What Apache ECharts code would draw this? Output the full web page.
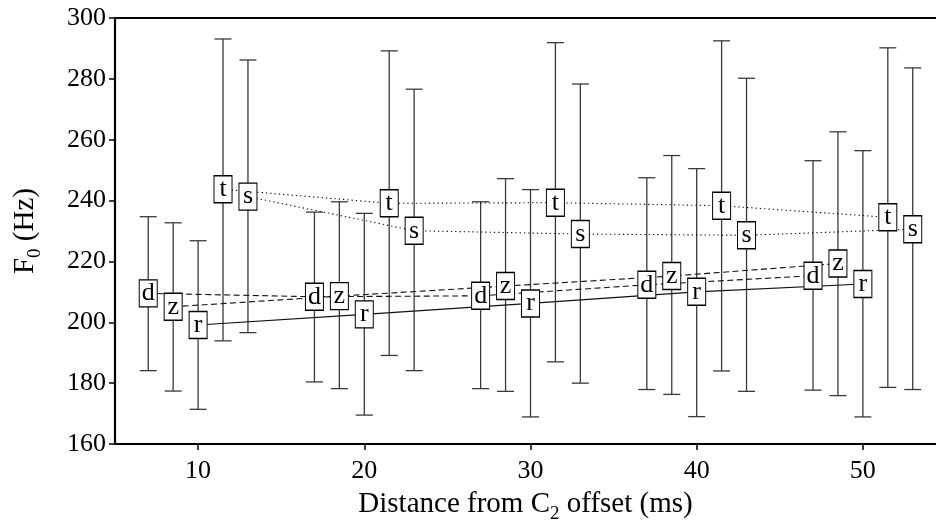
<!DOCTYPE html>
<html>
<head>
<meta charset="utf-8">
<script src="https://cdn.jsdelivr.net/npm/echarts@6/dist/echarts.min.js"></script>
<style>
html,body{margin:0;padding:0;background:#fff;}
#chart{width:936px;height:520px;}
</style>
</head>
<body>
<div id="chart"></div>
<script>
// Tick labels
const xTicks = [10, 20, 30, 40, 50];
const yTicks = [160, 180, 200, 220, 240, 260, 280, 300];

// Series letters
const letters = ['d', 'z', 'r', 't', 's'];

// x positions (ms) for each series
const dX = [7, 17, 27, 37, 47];
const zX = [8.5, 18.5, 28.5, 38.5, 48.5];
const rX = [10, 20, 30, 40, 50];
const tX = [11.5, 21.5, 31.5, 41.5, 51.5];
const sX = [13, 23, 33, 43, 53];

// mean F0 (Hz)
const dMean = [209.5, 208.4, 208.7, 212.3, 215.3];
const zMean = [205.1, 208.6, 211.9, 215.2, 219.3];
const rMean = [199.1, 202.6, 206.2, 210.0, 212.6];
const tMean = [243.7, 239.1, 239.3, 238.3, 234.5];
const sMean = [241.3, 230.1, 229.0, 228.6, 230.6];

// lower error bar ends
const dLow = [184.1, 180.4, 178.2, 177.9, 177.7];
const zLow = [177.4, 178.2, 177.3, 176.3, 175.9];
const rLow = [171.4, 169.5, 168.9, 169.0, 168.9];
const tLow = [193.9, 189.1, 187.0, 184.0, 178.6];
const sLow = [196.6, 184.1, 180.0, 177.3, 177.9];

// upper error bar ends
const dHigh = [234.7, 236.2, 239.6, 247.5, 253.1];
const zHigh = [232.7, 239.6, 247.2, 254.8, 262.6];
const rHigh = [226.8, 235.8, 243.6, 250.5, 256.4];
const tHigh = [293.1, 289.2, 291.9, 292.5, 290.2];
const sHigh = [286.2, 276.6, 278.3, 280.2, 283.6];

const FONT = "'Liberation Serif', 'Times New Roman', 'DejaVu Serif', serif";

const groups = [
  {name: letters[0], x: dX, mean: dMean, low: dLow, high: dHigh, line: [6, 3.5]},
  {name: letters[1], x: zX, mean: zMean, low: zLow, high: zHigh, line: [6, 3.5]},
  {name: letters[2], x: rX, mean: rMean, low: rLow, high: rHigh, line: 'solid'},
  {name: letters[3], x: tX, mean: tMean, low: tLow, high: tHigh, line: [1.3, 3]},
  {name: letters[4], x: sX, mean: sMean, low: sLow, high: sHigh, line: [1.3, 3]}
];

function renderErr(params, api) {
  const x = api.value(0), lo = api.value(1), hi = api.value(2);
  const a = api.coord([x, lo]);
  const b = api.coord([x, hi]);
  const w = 8.5;
  const st = {stroke: '#3a3a3a', lineWidth: 1.3};
  return {
    type: 'group',
    children: [
      {type: 'line', shape: {x1: a[0], y1: a[1], x2: b[0], y2: b[1]}, style: st},
      {type: 'line', shape: {x1: a[0] - w, y1: a[1], x2: a[0] + w, y2: a[1]}, style: st},
      {type: 'line', shape: {x1: b[0] - w, y1: b[1], x2: b[0] + w, y2: b[1]}, style: st}
    ]
  };
}

const series = [];
groups.forEach(g => {
  series.push({
    type: 'custom',
    name: g.name + '-err',
    renderItem: renderErr,
    encode: {x: 0, y: [1, 2]},
    data: g.x.map((x, i) => [x, g.low[i], g.high[i]]),
    z: 1,
    silent: true
  });
});
groups.forEach(g => {
  series.push({
    type: 'line',
    name: g.name + '-line',
    data: g.x.map((x, i) => [x, g.mean[i]]),
    symbol: 'none',
    lineStyle: {color: '#111', width: 1.1, type: g.line},
    z: 2,
    silent: true
  });
});
groups.forEach(g => {
  series.push({
    type: 'scatter',
    name: g.name,
    data: g.x.map((x, i) => [x, g.mean[i]]),
    symbol: 'rect',
    symbolSize: [18, 27],
    itemStyle: {color: '#fff', borderColor: '#000', borderWidth: 1.2, opacity: 1},
    label: {
      show: true,
      position: 'inside',
      formatter: g.name,
      color: '#000',
      fontSize: 26,
      fontFamily: FONT
    },
    z: 3,
    silent: true
  });
});

const chart = echarts.init(document.getElementById('chart'), null, {renderer: 'canvas'});
chart.setOption({
  animation: false,
  backgroundColor: '#fff',
  grid: {left: 115, top: 18, bottom: 76, right: 0, containLabel: false, outerBoundsMode: 'none'},
  xAxis: [{
    type: 'value',
    min: 5,
    max: 54.4,
    position: 'bottom',
    name: 'Distance from C{sub|2} offset (ms)',
    nameLocation: 'middle',
    nameGap: 40,
    nameTextStyle: {
      color: '#000', fontSize: 29, fontFamily: FONT,
      rich: {sub: {fontSize: 19, fontFamily: FONT, color: '#000', verticalAlign: 'bottom', lineHeight: 40}}
    },
    axisLine: {show: true, lineStyle: {color: '#000', width: 2.2}},
    axisTick: {show: true, customValues: xTicks, length: 6, lineStyle: {color: '#000', width: 1.5}},
    axisLabel: {customValues: xTicks, color: '#000', fontSize: 26, fontFamily: FONT, margin: 14},
    splitLine: {show: false}
  }, {
    type: 'value',
    min: 5,
    max: 54.4,
    position: 'top',
    axisLine: {show: true, onZero: false, lineStyle: {color: '#000', width: 2.2}},
    axisTick: {show: false},
    axisLabel: {show: false},
    splitLine: {show: false}
  }],
  yAxis: {
    type: 'value',
    min: yTicks[0],
    max: yTicks[yTicks.length - 1],
    interval: 20,
    name: 'F{sub|0} (Hz)',
    nameLocation: 'middle',
    nameGap: 70,
    nameRotate: 90,
    nameTextStyle: {
      color: '#000', fontSize: 29, fontFamily: FONT,
      rich: {sub: {fontSize: 19, fontFamily: FONT, color: '#000', verticalAlign: 'bottom', lineHeight: 40}}
    },
    axisLine: {show: true, lineStyle: {color: '#000', width: 2.2}},
    axisTick: {show: true, length: 6, lineStyle: {color: '#000', width: 1.5}},
    axisLabel: {color: '#000', fontSize: 26, fontFamily: FONT, margin: 9},
    splitLine: {show: false}
  },
  series: series
});
</script>
</body>
</html>
